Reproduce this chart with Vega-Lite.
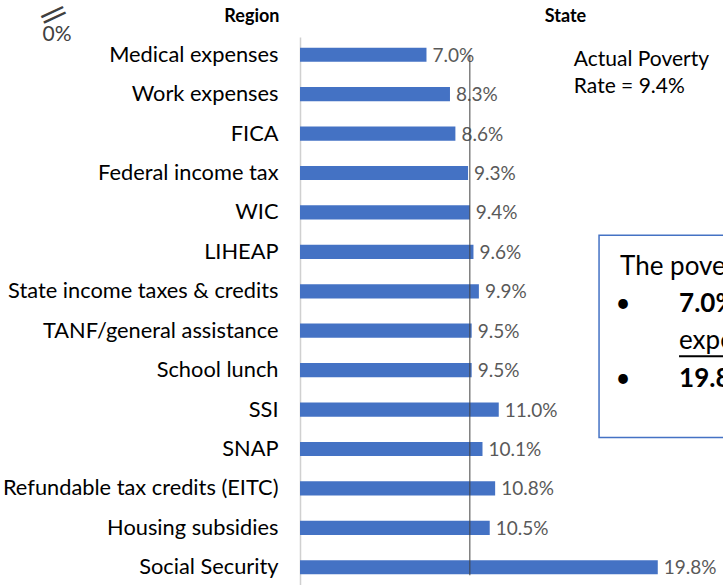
{
  "$schema": "https://vega.github.io/schema/vega-lite/v6.json",
  "width": 423,
  "height": 548,
  "autosize": {"type": "none"},
  "padding": {"left": 300, "top": 37, "right": 0, "bottom": 0},
  "background": "white",
  "config": {"view": {"stroke": null}, "font": "Lato"},
  "data": {
    "values": [
      {"program": "Medical expenses", "rate": 0.070},
      {"program": "Work expenses", "rate": 0.083},
      {"program": "FICA", "rate": 0.086},
      {"program": "Federal income tax", "rate": 0.093},
      {"program": "WIC", "rate": 0.094},
      {"program": "LIHEAP", "rate": 0.096},
      {"program": "State income taxes & credits", "rate": 0.099},
      {"program": "TANF/general assistance", "rate": 0.095},
      {"program": "School lunch", "rate": 0.095},
      {"program": "SSI", "rate": 0.110},
      {"program": "SNAP", "rate": 0.101},
      {"program": "Refundable tax credits (EITC)", "rate": 0.108},
      {"program": "Housing subsidies", "rate": 0.105},
      {"program": "Social Security", "rate": 0.198}
    ]
  },
  "layer": [
    {
      "mark": {"type": "bar", "color": "#4472c4"},
      "encoding": {
        "y": {
          "field": "program", "type": "nominal", "sort": null,
          "scale": {"paddingInner": 0.64, "paddingOuter": 0.27},
          "axis": {
            "orient": "left", "domain": true, "domainColor": "#d0d0d0", "domainWidth": 1.5,
            "ticks": false, "grid": false, "labelPadding": 22, "labelFontSize": 21.8,
            "labelColor": "#000000", "labelLimit": 320, "labelFont": "Lato",
            "title": "Region", "titleAngle": 0, "titleAlign": "right", "titleBaseline": "middle",
            "titleX": -21, "titleY": -21, "titleFontSize": 18, "titleFontWeight": "bold",
            "titleColor": "#000000", "titleFont": "Lato"
          }
        },
        "x": {
          "field": "rate", "type": "quantitative",
          "scale": {"domain": [0, 0.2341], "nice": false, "zero": true},
          "axis": {
            "orient": "top", "domain": false, "ticks": false, "labels": false, "grid": false,
            "title": "State", "titleX": 265, "titleY": -21, "titleAlign": "center",
            "titleBaseline": "middle", "titleFontSize": 18, "titleFontWeight": "bold",
            "titleColor": "#000000", "titleFont": "Lato"
          }
        }
      }
    },
    {
      "mark": {"type": "text", "align": "left", "baseline": "middle", "dx": 6, "dy": 1, "fontSize": 19, "color": "#595959"},
      "encoding": {
        "y": {"field": "program", "type": "nominal", "sort": null},
        "x": {"field": "rate", "type": "quantitative"},
        "text": {"field": "rate", "type": "quantitative", "format": ".1%"}
      }
    },
    {
      "data": {"values": [{"rate": 0.094}]},
      "mark": {"type": "rule", "color": "#404040", "strokeWidth": 1, "y2Offset": 8},
      "encoding": {
        "x": {"field": "rate", "type": "quantitative"},
        "y": {"datum": "Medical expenses"},
        "y2": {"datum": "Social Security"}
      }
    },
    {
      "data": {"values": [{"rate": 0.094, "note": "Actual Poverty\nRate = 9.4%"}]},
      "mark": {"type": "text", "align": "left", "baseline": "middle", "dx": 104, "dy": 5, "fontSize": 21, "lineHeight": 27, "lineBreak": "\n", "color": "#000000"},
      "encoding": {
        "x": {"field": "rate", "type": "quantitative"},
        "y": {"datum": "Medical expenses"},
        "text": {"field": "note"}
      }
    },
    {
      "data": {"values": [{"note": "box"}]},
      "mark": {"type": "rect", "fill": "white", "stroke": "#4472c4", "strokeWidth": 1.5, "yOffset": -16.5, "y2Offset": 28},
      "encoding": {
        "x": {"datum": 0.1655},
        "x2": {"datum": 0.4},
        "y": {"datum": "LIHEAP"},
        "y2": {"datum": "SSI"}
      }
    },
    {
      "data": {"values": [{"t": "The poverty rate would be:"}]},
      "mark": {"type": "text", "align": "left", "baseline": "middle", "dx": 21, "dy": 15, "fontSize": 26, "color": "#000000"},
      "encoding": {"x": {"datum": 0.1655}, "y": {"datum": "LIHEAP"}, "text": {"field": "t"}}
    },
    {
      "data": {"values": [{"t": "•"}]},
      "mark": {"type": "text", "align": "center", "baseline": "middle", "dx": 24, "dy": 52, "fontSize": 26, "color": "#000000"},
      "encoding": {"x": {"datum": 0.1655}, "y": {"datum": "LIHEAP"}, "text": {"field": "t"}}
    },
    {
      "data": {"values": [{"t": "•"}]},
      "mark": {"type": "text", "align": "center", "baseline": "middle", "dx": 24, "dy": 127, "fontSize": 26, "color": "#000000"},
      "encoding": {"x": {"datum": 0.1655}, "y": {"datum": "LIHEAP"}, "text": {"field": "t"}}
    },
    {
      "data": {"values": [{"t": "7.0% without medical"}]},
      "mark": {"type": "text", "align": "left", "baseline": "middle", "dx": 80, "dy": 52, "fontSize": 26, "fontWeight": "bold", "color": "#000000"},
      "encoding": {"x": {"datum": 0.1655}, "y": {"datum": "LIHEAP"}, "text": {"field": "t"}}
    },
    {
      "data": {"values": [{"t": "expenses"}]},
      "mark": {"type": "text", "align": "left", "baseline": "middle", "dx": 80, "dy": 89, "fontSize": 26, "color": "#000000"},
      "encoding": {"x": {"datum": 0.1655}, "y": {"datum": "LIHEAP"}, "text": {"field": "t"}}
    },
    {
      "data": {"values": [{"t": "underline"}]},
      "mark": {"type": "rule", "color": "#000000", "strokeWidth": 2, "xOffset": 80, "yOffset": 104.5},
      "encoding": {"x": {"datum": 0.1655}, "x2": {"datum": 0.4}, "y": {"datum": "LIHEAP"}}
    },
    {
      "data": {"values": [{"t": "19.8% without Social Security"}]},
      "mark": {"type": "text", "align": "left", "baseline": "middle", "dx": 80, "dy": 127, "fontSize": 26, "fontWeight": "bold", "color": "#000000"},
      "encoding": {"x": {"datum": 0.1655}, "y": {"datum": "LIHEAP"}, "text": {"field": "t"}}
    },
    {
      "data": {"values": [{"t": "0%"}]},
      "mark": {"type": "text", "align": "center", "baseline": "middle", "xOffset": -243, "yOffset": -20, "fontSize": 21, "color": "#404040"},
      "encoding": {"x": {"datum": 0}, "y": {"datum": "Medical expenses"}, "text": {"field": "t"}}
    },
    {
      "data": {"values": [{"t": "—\n—"}]},
      "mark": {"type": "text", "align": "center", "baseline": "middle", "xOffset": -248, "yOffset": -43, "fontSize": 36, "lineHeight": 6, "lineBreak": "\n", "angle": 335, "color": "#404040"},
      "encoding": {"x": {"datum": 0}, "y": {"datum": "Medical expenses"}, "text": {"field": "t"}}
    }
  ]
}
